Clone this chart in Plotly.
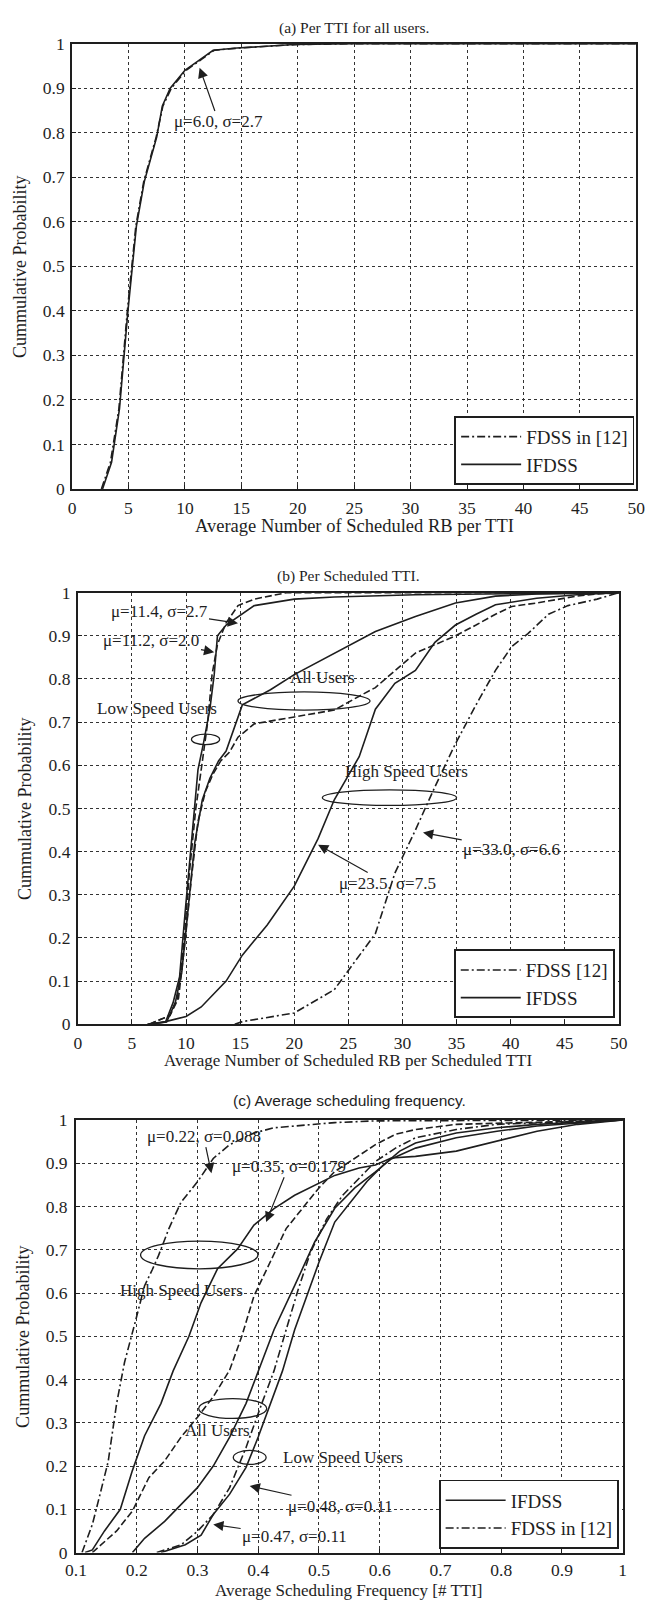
import plotly.graph_objects as go

W, H = 654, 1606

# ---------------- data ----------------
# (a) Per TTI for all users
a_fdss_x = [2.6, 3.4, 4.15, 4.9, 5.65, 6.35, 7.45, 8.05, 8.8, 10.1, 11.5, 12.6, 14.8, 20.0, 26, 50]
a_fdss_y = [0, 0.06, 0.18, 0.40, 0.59, 0.69, 0.79, 0.86, 0.90, 0.94, 0.965, 0.985, 0.99, 0.998, 1, 1]
a_ifdss_x = [2.7, 3.5, 4.2, 4.95, 5.7, 6.4, 7.5, 8.0, 8.7, 10.0, 11.4, 12.5, 14.6, 19.7, 25, 50]
a_ifdss_y = [0, 0.06, 0.18, 0.40, 0.59, 0.69, 0.79, 0.86, 0.90, 0.94, 0.965, 0.985, 0.99, 0.998, 1, 1]

# (b) Per scheduled TTI
b_low_ifdss_x = [6.4, 8.1, 8.8, 9.4, 9.95, 10.5, 11.1, 11.6, 12.2, 12.6, 12.9, 13.7, 15.2, 16.3, 20, 23.7, 31.2, 50]
b_low_ifdss_y = [0, 0.005, 0.05, 0.11, 0.27, 0.43, 0.59, 0.65, 0.73, 0.81, 0.90, 0.925, 0.95, 0.97, 0.985, 0.99, 0.995, 1]
b_all_ifdss_x = [6.5, 8.2, 9.0, 9.6, 10.2, 10.8, 11.5, 12.2, 13.0, 13.7, 15.2, 17.8, 20, 23.7, 27.5, 31.2, 34.9, 38.6, 42.4, 50]
b_all_ifdss_y = [0, 0.005, 0.05, 0.12, 0.27, 0.42, 0.52, 0.57, 0.61, 0.633, 0.74, 0.775, 0.81, 0.86, 0.91, 0.945, 0.976, 0.992, 0.997, 1]
b_high_ifdss_x = [6.5, 8.1, 10, 11.4, 13.7, 15.2, 17.5, 20, 22.2, 23.7, 26, 27.5, 29.3, 31.2, 33, 34.9, 36.8, 38.6, 42.4, 46.1, 50]
b_high_ifdss_y = [0, 0.006, 0.018, 0.04, 0.10, 0.16, 0.23, 0.32, 0.43, 0.52, 0.62, 0.73, 0.79, 0.82, 0.885, 0.925, 0.95, 0.972, 0.987, 0.995, 1]
b_low_fdss_x = [6.6, 8.5, 9.2, 9.8, 10.3, 10.9, 11.4, 12.0, 12.4, 12.9, 13.7, 14.8, 16.3, 19.3, 50]
b_low_fdss_y = [0, 0.02, 0.06, 0.19, 0.35, 0.5, 0.59, 0.70, 0.81, 0.88, 0.93, 0.97, 0.985, 1, 1]
b_all_fdss_x = [6.6, 8.5, 9.3, 9.9, 10.5, 11.1, 11.8, 12.5, 13.2, 14.0, 14.8, 16.3, 20, 23.7, 26, 27.5, 31.2, 34.9, 36.8, 38.6, 40.1, 42.4, 46.1, 48, 50]
b_all_fdss_y = [0, 0.02, 0.06, 0.19, 0.34, 0.47, 0.54, 0.58, 0.61, 0.63, 0.665, 0.696, 0.712, 0.728, 0.76, 0.78, 0.86, 0.90, 0.925, 0.95, 0.968, 0.976, 0.992, 0.997, 1]
b_high_fdss_x = [14.5, 15.2, 20, 23.7, 25.6, 27.5, 29.3, 31.2, 33, 34.9, 36.8, 38.6, 40.1, 41.6, 43.5, 45.3, 48, 50]
b_high_fdss_y = [0, 0.006, 0.026, 0.08, 0.145, 0.21, 0.35, 0.45, 0.55, 0.65, 0.74, 0.82, 0.875, 0.905, 0.95, 0.97, 0.985, 1]

# (c) Average scheduling frequency
c_high_fdss_x = [0.11, 0.127, 0.137, 0.153, 0.167, 0.18, 0.197, 0.213, 0.226, 0.236, 0.253, 0.273, 0.30, 0.326, 0.353, 0.393, 0.426, 0.526, 0.593, 1.0]
c_high_fdss_y = [0, 0.065, 0.12, 0.21, 0.345, 0.44, 0.53, 0.617, 0.655, 0.687, 0.749, 0.81, 0.857, 0.911, 0.943, 0.97, 0.982, 0.994, 0.998, 1]
c_high_ifdss_x = [0.115, 0.127, 0.147, 0.173, 0.193, 0.213, 0.24, 0.26, 0.286, 0.306, 0.333, 0.366, 0.393, 0.426, 0.46, 0.493, 0.526, 0.566, 0.593, 0.619, 0.659, 0.726, 0.793, 0.859, 0.926, 1.0]
c_high_ifdss_y = [0, 0.006, 0.05, 0.10, 0.19, 0.27, 0.345, 0.42, 0.50, 0.578, 0.656, 0.702, 0.757, 0.795, 0.826, 0.849, 0.872, 0.889, 0.896, 0.912, 0.916, 0.928, 0.951, 0.974, 0.99, 1]
c_all_ifdss_x = [0.193, 0.213, 0.246, 0.273, 0.30, 0.326, 0.353, 0.38, 0.40, 0.426, 0.46, 0.493, 0.526, 0.559, 0.593, 0.619, 0.659, 0.726, 0.793, 0.859, 1.0]
c_all_ifdss_y = [0, 0.033, 0.072, 0.111, 0.15, 0.20, 0.267, 0.345, 0.42, 0.515, 0.617, 0.718, 0.796, 0.843, 0.88, 0.91, 0.935, 0.959, 0.974, 0.986, 1]
c_low_ifdss_x = [0.24, 0.28, 0.306, 0.326, 0.353, 0.38, 0.40, 0.42, 0.44, 0.46, 0.48, 0.50, 0.526, 0.553, 0.579, 0.606, 0.633, 0.659, 0.726, 0.793, 0.859, 1.0]
c_low_ifdss_y = [0, 0.018, 0.04, 0.088, 0.135, 0.197, 0.267, 0.345, 0.42, 0.515, 0.593, 0.671, 0.764, 0.811, 0.858, 0.896, 0.928, 0.947, 0.97, 0.982, 0.99, 1]
c_all_fdss_x = [0.127, 0.167, 0.193, 0.22, 0.246, 0.273, 0.30, 0.326, 0.353, 0.373, 0.393, 0.42, 0.446, 0.473, 0.50, 0.526, 0.559, 0.593, 0.626, 0.659, 0.726, 1.0]
c_all_fdss_y = [0, 0.05, 0.096, 0.173, 0.212, 0.267, 0.313, 0.36, 0.422, 0.50, 0.593, 0.671, 0.749, 0.796, 0.843, 0.881, 0.912, 0.943, 0.967, 0.978, 0.99, 1]
c_low_fdss_x = [0.233, 0.273, 0.30, 0.326, 0.353, 0.38, 0.406, 0.426, 0.446, 0.466, 0.486, 0.513, 0.539, 0.566, 0.593, 0.626, 0.659, 0.726, 0.793, 1.0]
c_low_fdss_y = [0, 0.018, 0.049, 0.088, 0.15, 0.243, 0.345, 0.42, 0.515, 0.609, 0.694, 0.772, 0.826, 0.865, 0.904, 0.935, 0.959, 0.978, 0.99, 1]

prob_ticks = [0, 0.1, 0.2, 0.3, 0.4, 0.5, 0.6, 0.7, 0.8, 0.9, 1]
prob_labels = ["0", "0.1", "0.2", "0.3", "0.4", "0.5", "0.6", "0.7", "0.8", "0.9", "1"]
rb_ticks = [0, 5, 10, 15, 20, 25, 30, 35, 40, 45, 50]
freq_ticks = [0.1, 0.2, 0.3, 0.4, 0.5, 0.6, 0.7, 0.8, 0.9, 1.0]
freq_labels = ["0.1", "0.2", "0.3", "0.4", "0.5", "0.6", "0.7", "0.8", "0.9", "1"]

# ---------------- layout geometry ----------------
def dom_x(l, r):
    return [l / W, r / W]

def dom_y(t, b):
    return [1 - b / H, 1 - t / H]

DX = {1: dom_x(63, 645), 2: dom_x(69, 627), 3: dom_x(67, 631)}
DY = {1: dom_y(34, 485), 2: dom_y(590, 1027), 3: dom_y(1124, 1562)}

SERIF = "Liberation Serif"
SANS = "Liberation Sans"
INK = "#1e1e1e"
DASHDOT = "8px,3px,2px,3px"
LW = 1.6

fig = go.Figure()

def add(x, y, ax, name, dash, legend, show):
    fig.add_trace(go.Scatter(
        x=x, y=y, mode="lines", name=name,
        line=dict(color=INK, width=LW, dash=dash),
        xaxis="x" if ax == 1 else f"x{ax}", yaxis="y" if ax == 1 else f"y{ax}",
        legend=legend, showlegend=show))

# (a)
add(a_fdss_x, a_fdss_y, 1, "FDSS in [12]", DASHDOT, "legend", True)
add(a_ifdss_x, a_ifdss_y, 1, "IFDSS", "solid", "legend", True)
# (b)
add(b_high_fdss_x, b_high_fdss_y, 2, "FDSS [12]", DASHDOT, "legend2", True)
add(b_low_ifdss_x, b_low_ifdss_y, 2, "IFDSS", "solid", "legend2", True)
add(b_low_fdss_x, b_low_fdss_y, 2, "FDSS [12]", "7px,3px", "legend2", False)
add(b_all_fdss_x, b_all_fdss_y, 2, "FDSS [12]", "7px,3px", "legend2", False)
add(b_all_ifdss_x, b_all_ifdss_y, 2, "IFDSS", "solid", "legend2", False)
add(b_high_ifdss_x, b_high_ifdss_y, 2, "IFDSS", "solid", "legend2", False)
# (c)
add(c_high_ifdss_x, c_high_ifdss_y, 3, "IFDSS", "solid", "legend3", True)
add(c_high_fdss_x, c_high_fdss_y, 3, "FDSS in [12]", DASHDOT, "legend3", True)
add(c_all_ifdss_x, c_all_ifdss_y, 3, "IFDSS", "solid", "legend3", False)
add(c_low_ifdss_x, c_low_ifdss_y, 3, "IFDSS", "solid", "legend3", False)
add(c_all_fdss_x, c_all_fdss_y, 3, "FDSS in [12]", "7px,3px", "legend3", False)
add(c_low_fdss_x, c_low_fdss_y, 3, "FDSS in [12]", DASHDOT, "legend3", False)

def axis_common(domain, rng, tickvals, ticktext, anchor, standoff=0):
    return dict(domain=domain, range=rng, tickvals=tickvals, ticktext=ticktext,
                anchor=anchor, showline=True, mirror=True, linecolor=INK, linewidth=1.8,
                ticks="inside", ticklen=4, tickcolor=INK, ticklabelstandoff=standoff,
                showgrid=True, gridcolor="#333", griddash="dot", gridwidth=1.2,
                zeroline=False, tickfont=dict(family=SERIF, size=17.5, color=INK))

layout = dict(
    width=W, height=H, margin=dict(l=0, r=0, t=0, b=0),
    paper_bgcolor="white", plot_bgcolor="white",
    xaxis=axis_common(DX[1], [0, 50], rb_ticks, [str(v) for v in rb_ticks], "y", 2),
    yaxis=axis_common(DY[1], [0, 1], prob_ticks, prob_labels, "x", 2),
    xaxis2=axis_common(DX[2], [0, 50], rb_ticks, [str(v) for v in rb_ticks], "y2", 2),
    yaxis2=axis_common(DY[2], [0, 1], prob_ticks, prob_labels, "x2", 2),
    xaxis3=axis_common(DX[3], [0.1, 1.0], freq_ticks, freq_labels, "y3", 1),
    yaxis3=axis_common(DY[3], [0, 1], prob_ticks, prob_labels, "x3", 3),
    showlegend=True,
)

def legend_box(right_px, bottom_px):
    return dict(x=right_px / W, y=1 - bottom_px / H, xanchor="right", yanchor="bottom",
                bgcolor="white", bordercolor=INK, borderwidth=1.8,
                font=dict(family=SERIF, size=19, color=INK), itemwidth=60,
                tracegroupgap=0)

layout["legend"] = legend_box(643, 481)
layout["legend2"] = legend_box(623, 1021)
layout["legend3"] = legend_box(627, 1558)
fig.update_layout(**layout)

annots = []

def title(k, text, ypx, fam=SERIF, size=15.5):
    x0, x1 = DX[k]
    annots.append(dict(text=text, xref="paper", yref="paper", x=(x0 + x1) / 2, y=1 - ypx / H,
                       showarrow=False, xanchor="center", yanchor="middle",
                       font=dict(family=fam, size=size, color=INK)))

title(1, "(a) Per TTI for all users.", 18)
title(2, "(b) Per Scheduled TTI.", 573)
title(3, "(c) Average scheduling frequency.", 1104, SANS, 15.5)

def xtitle(k, text, ypx, size):
    x0, x1 = DX[k]
    annots.append(dict(text=text, xref="paper", yref="paper", x=(x0 + x1) / 2, y=1 - ypx / H,
                       showarrow=False, xanchor="center", yanchor="middle",
                       font=dict(family=SERIF, size=size, color=INK)))

def ytitle(k, xpx):
    y0, y1 = DY[k]
    annots.append(dict(text="Cummulative Probability", xref="paper", yref="paper", x=xpx / W,
                       y=(y0 + y1) / 2, showarrow=False, textangle=-90, xanchor="center",
                       yanchor="middle", font=dict(family=SERIF, size=18, color=INK)))

xtitle(1, "Average Number of Scheduled RB per TTI", 523, 18.5)
xtitle(2, "Average Number of Scheduled RB per Scheduled TTI", 1064, 17)
xtitle(3, "Average Scheduling Frequency [# TTI]", 1600, 17)
ytitle(1, 10)
ytitle(2, 15)
ytitle(3, 13)

def arrow(k, text, tx, ty, hx, hy):
    xr = "x" if k == 1 else f"x{k}"
    yr = "y" if k == 1 else f"y{k}"
    annots.append(dict(text=text, x=hx, y=hy, ax=tx, ay=ty, xref=xr, yref=yr, axref=xr, ayref=yr,
                       showarrow=True, arrowhead=2, arrowsize=1.7, arrowwidth=1.2, arrowcolor=INK,
                       font=dict(family=SERIF, size=17, color=INK)))

def label(k, text, tx, ty):
    xr = "x" if k == 1 else f"x{k}"
    yr = "y" if k == 1 else f"y{k}"
    annots.append(dict(text=text, x=tx, y=ty, xref=xr, yref=yr, showarrow=False,
                       font=dict(family=SERIF, size=17, color=INK)))

arrow(1, "μ=6.0, σ=2.7", 13.0, 0.824, 11.3, 0.946)

arrow(2, "μ=11.4, σ=2.7", 7.5, 0.957, 14.8, 0.929)
arrow(2, "μ=11.2, σ=2.0", 6.8, 0.89, 12.6, 0.862)
arrow(2, "μ=33.0, σ=6.6", 40.1, 0.405, 31.9, 0.444)
arrow(2, "μ=23.5, σ=7.5", 28.6, 0.326, 22.2, 0.416)
label(2, "Low Speed Users", 7.3, 0.732)
label(2, "All Users", 22.6, 0.803)
label(2, "High Speed Users", 30.4, 0.586)

arrow(3, "μ=0.22, σ=0.088", 0.31, 0.963, 0.323, 0.877)
arrow(3, "μ=0.35, σ=0.179", 0.45, 0.893, 0.413, 0.764)
arrow(3, "μ=0.48, σ=0.11", 0.536, 0.107, 0.386, 0.154)
arrow(3, "μ=0.47, σ=0.11", 0.46, 0.037, 0.326, 0.065)
label(3, "High Speed Users", 0.273, 0.605)
label(3, "All Users", 0.333, 0.282)
label(3, "Low Speed Users", 0.539, 0.22)

fig.update_layout(annotations=annots)

def ellipse(k, cx, cy, rx, ry):
    xr = "x" if k == 1 else f"x{k}"
    yr = "y" if k == 1 else f"y{k}"
    fig.add_shape(type="circle", xref=xr, yref=yr, x0=cx - rx, x1=cx + rx, y0=cy - ry, y1=cy + ry,
                  line=dict(color=INK, width=1.3))

ellipse(2, 11.8, 0.66, 1.3, 0.012)
ellipse(2, 20.9, 0.749, 6.1, 0.021)
ellipse(2, 28.8, 0.525, 6.2, 0.018)
ellipse(3, 0.303, 0.688, 0.0966, 0.032)
ellipse(3, 0.358, 0.333, 0.056, 0.023)
ellipse(3, 0.386, 0.22, 0.027, 0.016)

fig.write_html("out.html")
